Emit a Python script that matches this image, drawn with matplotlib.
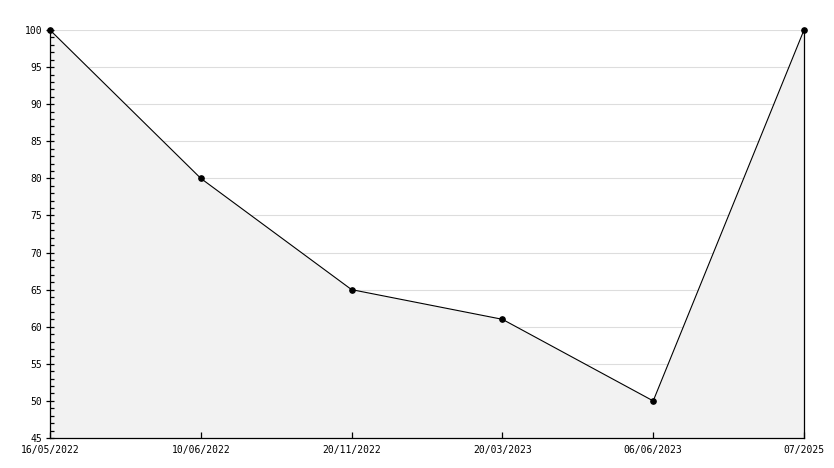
import matplotlib
matplotlib.use("Agg")
import matplotlib.pyplot as plt
from matplotlib.ticker import MultipleLocator

dates = ["16/05/2022", "10/06/2022", "20/11/2022", "20/03/2023", "06/06/2023", "07/2025"]
values = [100, 80, 65, 61, 50, 100]
y_major = [50, 55, 60, 65, 70, 75, 80, 85, 90, 95, 100]

plt.rcParams['font.family'] = ['DejaVu Sans Mono']
plt.rcParams['font.size'] = 7

fig = plt.figure(figsize=(8.34, 4.68), dpi=100)
ax = fig.add_axes([50/834, 1-438/468, 754/834, 408/468])

x = list(range(len(dates)))
for yv in y_major:
    ax.axhline(yv, color="#dddddd", linewidth=0.8, zorder=0.5)
ax.fill_between(x, values, 45, color="#f2f2f2", zorder=1, linewidth=0)
ax.plot(x, values, color="black", linewidth=0.8, marker="o", markersize=3.8,
        markerfacecolor="black", markeredgecolor="black", zorder=3, clip_on=False)

ax.set_xlim(0, len(dates)-1)
ax.set_ylim(45, 100)
ax.yaxis.set_major_locator(MultipleLocator(5))
ax.yaxis.set_minor_locator(MultipleLocator(1))
ax.set_xticks(x)
ax.set_xticklabels(dates)

ax.spines["top"].set_visible(False)
for s in ["left", "bottom", "right"]:
    ax.spines[s].set_color("black")
    ax.spines[s].set_linewidth(0.9)
    ax.spines[s].set_zorder(4)

ax.tick_params(axis="y", which="major", direction="inout", length=5.5, width=0.9, pad=3, colors="black")
ax.tick_params(axis="y", which="minor", direction="in", length=2.6, width=0.9)
ax.tick_params(axis="x", which="major", direction="in", length=4.3, width=0.9, pad=5)
ax.tick_params(right=False)

fig.savefig("out.png", dpi=100)
